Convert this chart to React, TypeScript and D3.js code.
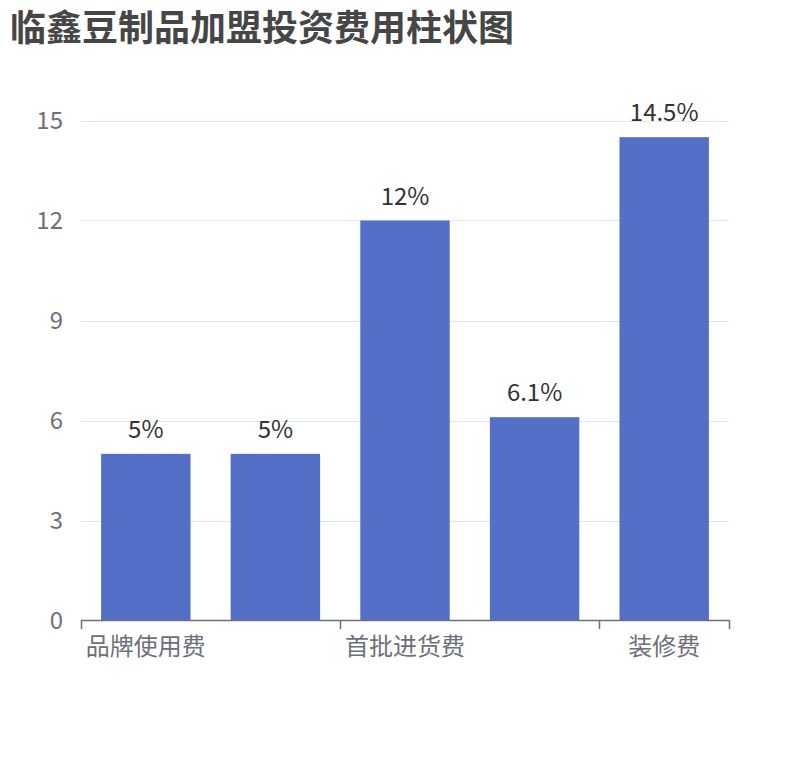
import React from "react";
import * as d3 from "d3";

const TITLE = "临鑫豆制品加盟投资费用柱状图";
const categories = ["品牌使用费", "加盟费", "首批进货费", "设备费", "装修费"];
const values = [5, 5, 12, 6.1, 14.5];
const valueLabels = ["5%", "5%", "12%", "6.1%", "14.5%"];
const yTicks = [0, 3, 6, 9, 12, 15];

const W = 810;
const H = 760;
const FONT = '"Noto Sans CJK SC", "Noto Sans", sans-serif';

export default function App() {
  const x = d3.scaleBand<string>().domain(categories).range([81, 729]).padding(0);
  const y = d3.scaleLinear().domain([0, 15]).range([620.5, 120.5]);
  const bw = x.bandwidth() * 0.69;
  const tickXs = categories.filter((_, i) => i % 2 === 0).map((c) => x(c) as number);
  tickXs.push(x.range()[1]);

  return (
    <svg
      width={W}
      height={H}
      style={{ position: "absolute", left: 0, top: 0, background: "#fff" }}
      fontFamily={FONT}
    >
      <text x={10} y={41} fontSize={36} fontWeight="bold" fill="#464646">
        {TITLE}
      </text>
      {yTicks.map((t) => (
        <g key={t}>
          {t !== 0 && (
            <line x1={81} x2={729} y1={Math.round(y(t)) + 0.5} y2={Math.round(y(t)) + 0.5} stroke="#E0E6F1" strokeWidth={1} />
          )}
          <text x={63} y={y(t) - 2.5} fontSize={24} fill="#6E7079" textAnchor="end" dominantBaseline="central">
            {t}
          </text>
        </g>
      ))}
      {categories.map((c, i) => {
        const cx = (x(c) as number) + x.bandwidth() / 2;
        return (
          <g key={c}>
            <rect x={cx - bw / 2} y={y(values[i])} width={bw} height={y(0) - y(values[i])} fill="#5470C6" />
            <text x={cx} y={y(values[i]) - 16} fontSize={24} fill="#333" textAnchor="middle">
              {valueLabels[i]}
            </text>
          </g>
        );
      })}
      <line x1={81} x2={729} y1={620.5} y2={620.5} stroke="#6E7079" strokeWidth={1.5} />
      {tickXs.map((tx, i) => (
        <line key={i} x1={Math.round(tx) + 0.5} x2={Math.round(tx) + 0.5} y1={620} y2={629} stroke="#6E7079" strokeWidth={1.5} />
      ))}
      {categories.map((c, i) =>
        i % 2 === 0 ? (
          <text key={c} x={(x(c) as number) + x.bandwidth() / 2} y={655} fontSize={24} fill="#6E7079" textAnchor="middle">
            {c}
          </text>
        ) : null
      )}
    </svg>
  );
}
